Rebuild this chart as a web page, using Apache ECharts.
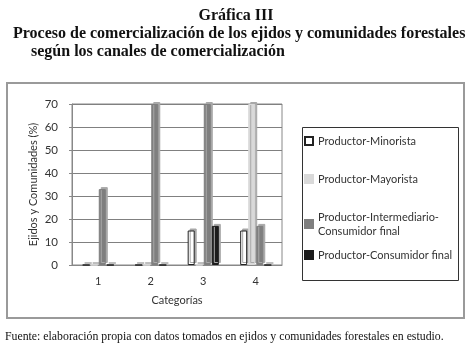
<!DOCTYPE html>
<html>
<head>
<meta charset="utf-8">
<script src="https://cdn.jsdelivr.net/npm/echarts@6/dist/echarts.min.js"></script>
<style>
  html, body { margin: 0; padding: 0; background: #fff; }
  #main { width: 472px; height: 346px; }
</style>
</head>
<body>
<div id="main"></div>
<script>
// datos
let categorias = ["1", "2", "3", "4"];
let minorista = [0, 0, 15, 15];
let mayorista = [0, 0, 0, 70];
let intermediario = [33, 70, 70, 17];
let consumidor = [0, 0, 17, 0];
let yTicks = { min: 0, max: 70, interval: 10 };

let myChart = echarts.init(document.getElementById("main"));

function serie(name, data, color, border) {
  return {
    name: name,
    type: "bar",
    data: data,
    barWidth: 7,
    barGap: "15%",
    itemStyle: {
      color: color,
      borderColor: border,
      borderWidth: 1,
      shadowColor: "#a8a8a8",
      shadowOffsetX: 2,
      shadowOffsetY: -2,
      shadowBlur: 0
    }
  };
}

let legendText = { fontFamily: "Lato", fontSize: 11, color: "#333", lineHeight: 14 };

let option = {
  animation: false,
  title: [
    {
      text: "Gráfica III",
      left: "center",
      top: 3,
      textStyle: { fontFamily: "Liberation Serif", fontSize: 16, fontWeight: "bold", color: "#111" }
    },
    {
      text: "Proceso de comercialización de los ejidos y comunidades forestales",
      left: 8,
      top: 21,
      textStyle: { fontFamily: "Liberation Serif", fontSize: 16, fontWeight: "bold", color: "#111" }
    },
    {
      text: "según los canales de comercialización",
      left: 26,
      top: 39,
      textStyle: { fontFamily: "Liberation Serif", fontSize: 16, fontWeight: "bold", color: "#111" }
    },
    {
      text: "Fuente: elaboración propia con datos tomados en ejidos y comunidades forestales en estudio.",
      left: 0,
      top: 326,
      textStyle: { fontFamily: "Liberation Serif", fontSize: 11.8, fontWeight: "normal", color: "#111" }
    }
  ],
  graphic: [
    {
      type: "rect",
      shape: { x: 7, y: 83, width: 457, height: 235 },
      style: { fill: "none", stroke: "#9a9a9a", lineWidth: 2 },
      z: -1
    },
    {
      type: "rect",
      shape: { x: 302.5, y: 127.5, width: 156, height: 153 },
      style: { fill: "none", stroke: "#333", lineWidth: 1 },
      z: -1
    }
  ],
  legend: [
    {
      orient: "vertical",
      left: 304,
      top: 134,
      padding: 0,
      itemGap: 24,
      itemWidth: 8,
      itemHeight: 8,
      icon: "rect",
      textStyle: legendText,
      data: ["Productor-Minorista", "Productor-Mayorista", "Productor-Intermediario-\nConsumidor final"]
    },
    {
      orient: "vertical",
      left: 304,
      top: 248,
      padding: 0,
      itemWidth: 8,
      itemHeight: 8,
      icon: "rect",
      textStyle: legendText,
      data: ["Productor-Consumidor final"]
    }
  ],
  grid: {
    left: 72,
    top: 104,
    right: 190,
    bottom: 81,
    show: true,
    borderColor: "#888",
    borderWidth: 1
  },
  xAxis: {
    type: "category",
    data: categorias,
    name: "Categorías",
    nameLocation: "middle",
    nameGap: 30,
    nameTextStyle: { fontFamily: "Lato", fontSize: 11, color: "#333" },
    axisTick: { show: false },
    axisLine: { lineStyle: { color: "#888" } },
    axisLabel: { fontFamily: "Lato", fontSize: 11, color: "#333", margin: 11 }
  },
  yAxis: {
    type: "value",
    min: yTicks.min,
    max: yTicks.max,
    interval: yTicks.interval,
    name: "Ejidos y Comunidades (%)",
    nameLocation: "middle",
    nameGap: 33,
    nameTextStyle: { fontFamily: "Lato", fontSize: 11, color: "#333" },
    axisLine: { show: true, lineStyle: { color: "#888" } },
    axisTick: { show: true, length: 3, lineStyle: { color: "#888" } },
    axisLabel: { fontFamily: "Lato", fontSize: 11.5, color: "#333", margin: 14 },
    splitLine: { lineStyle: { color: "#808080" } }
  },
  series: [
    serie("Productor-Minorista", minorista, "#ffffff", "#222"),
    serie("Productor-Mayorista", mayorista, "#d9d9d9", "#d9d9d9"),
    serie("Productor-Intermediario-\nConsumidor final", intermediario, "#7f7f7f", "#7f7f7f"),
    serie("Productor-Consumidor final", consumidor, "#1c1c1c", "#1c1c1c")
  ]
};
myChart.setOption(option);
</script>
</body>
</html>
